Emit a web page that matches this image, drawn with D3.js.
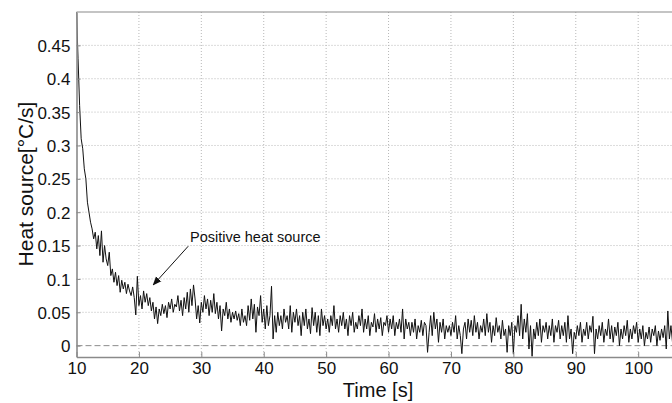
<!DOCTYPE html>
<html>
<head>
<meta charset="utf-8">
<script src="https://cdn.jsdelivr.net/npm/d3@7"></script>
<style>
    body { margin: 0; background: #fff; }
    text { font-family: Arial, "Liberation Sans", sans-serif; fill: #111; }
</style>
</head>
<body>
<div id="chart"></div>
<script>
// Sampled heat source [°C/s], one value every 0.25 s starting at t = 10 s
const startTime = 10;
const timeStep = 0.25;

const heat10to20 = [0.500, 0.430, 0.360, 0.310, 0.295, 0.265, 0.250, 0.215, 0.200, 0.185,
    0.175, 0.160, 0.170, 0.145, 0.165, 0.135, 0.172, 0.125, 0.150, 0.130,
    0.120, 0.140, 0.105, 0.115, 0.095, 0.110, 0.090, 0.105, 0.080, 0.098,
    0.085, 0.095, 0.078, 0.092, 0.082, 0.075, 0.088, 0.072, 0.046, 0.104];
const heat20to30 = [0.060, 0.075, 0.055, 0.082, 0.065, 0.078, 0.060, 0.072, 0.052, 0.065,
    0.040, 0.058, 0.033, 0.055, 0.045, 0.062, 0.048, 0.060, 0.042, 0.065,
    0.055, 0.070, 0.050, 0.062, 0.058, 0.075, 0.052, 0.068, 0.045, 0.072,
    0.055, 0.080, 0.050, 0.085, 0.060, 0.091, 0.070, 0.040, 0.060, 0.034];
const heat30to40 = [0.065, 0.050, 0.075, 0.055, 0.070, 0.045, 0.068, 0.050, 0.078, 0.048,
    0.065, 0.040, 0.060, 0.022, 0.055, 0.045, 0.065, 0.040, 0.055, 0.035,
    0.050, 0.040, 0.052, 0.038, 0.048, 0.030, 0.055, 0.035, 0.045, 0.030,
    0.060, 0.038, 0.070, 0.040, 0.062, 0.020, 0.058, 0.045, 0.075, 0.035];
const heat40to50 = [0.055, 0.025, 0.060, 0.030, 0.045, 0.089, 0.010, 0.045, 0.020, 0.050,
    0.030, 0.045, 0.025, 0.055, 0.035, 0.045, 0.025, 0.060, 0.020, 0.050,
    0.035, 0.055, 0.030, 0.045, 0.015, 0.050, 0.030, 0.055, 0.025, 0.040,
    0.018, 0.057, 0.030, 0.050, 0.020, 0.045, 0.015, 0.055, 0.030, 0.045];
const heat50to60 = [0.025, 0.040, 0.020, 0.045, 0.030, 0.060, 0.025, 0.040, 0.020, 0.045,
    0.030, 0.050, 0.025, 0.040, 0.015, 0.045, 0.030, 0.050, 0.020, 0.035,
    0.025, 0.045, 0.030, 0.055, 0.020, 0.040, 0.025, 0.045, 0.015, 0.035,
    0.028, 0.048, 0.020, 0.040, 0.025, 0.042, 0.015, 0.035, 0.030, 0.045];
const heat60to70 = [0.020, 0.040, 0.025, 0.045, 0.015, 0.035, 0.025, 0.040, 0.020, 0.055,
    0.010, 0.040, 0.025, 0.035, 0.015, 0.035, 0.020, 0.040, 0.010, 0.030,
    0.020, 0.038, 0.015, 0.035, 0.030, -0.010, 0.020, 0.045, 0.015, 0.050,
    0.025, 0.040, 0.005, 0.035, 0.020, 0.040, 0.010, 0.030, 0.020, 0.030];
const heat70to80 = [0.015, 0.035, 0.020, 0.045, 0.010, 0.030, 0.015, -0.012, 0.025, 0.035,
    0.010, 0.040, 0.020, 0.038, 0.015, 0.045, 0.020, 0.035, 0.010, 0.030,
    0.020, 0.040, 0.015, 0.048, 0.020, 0.035, 0.005, 0.030, 0.015, 0.042,
    0.020, 0.030, 0.010, 0.038, 0.015, 0.025, -0.010, 0.030, 0.015, 0.035];
const heat80to90 = [-0.012, 0.030, 0.020, 0.045, 0.015, 0.062, 0.010, 0.040, 0.020, 0.048,
    -0.005, 0.030, -0.016, 0.025, 0.010, 0.035, 0.015, 0.040, 0.005, 0.030,
    0.020, 0.035, 0.010, 0.030, 0.015, 0.040, 0.005, 0.030, 0.020, 0.038,
    0.010, 0.030, 0.015, 0.035, 0.005, 0.045, 0.010, 0.025, -0.012, 0.020];
const heat90to100 = [0.010, 0.030, 0.015, 0.035, 0.005, 0.025, 0.015, 0.035, 0.010, 0.030,
    0.020, 0.044, -0.012, 0.025, 0.010, 0.030, 0.015, 0.035, 0.005, 0.025,
    0.015, 0.040, 0.010, 0.030, 0.005, 0.028, 0.015, 0.035, 0.000, 0.025,
    0.010, 0.030, 0.015, 0.038, 0.005, 0.025, 0.010, 0.030, 0.018, 0.035];
const heat100to105 = [0.005, 0.025, 0.010, 0.030, 0.000, 0.020, 0.010, 0.028, 0.005, 0.025,
    0.015, 0.030, 0.000, 0.022, 0.008, 0.025, 0.012, 0.030, -0.005, 0.052,
    0.010, 0.030, 0.005];

const xTicks = [10, 20, 30, 40, 50, 60, 70, 80, 90, 100];
const yTicks = [0, 0.05, 0.1, 0.15, 0.2, 0.25, 0.3, 0.35, 0.4, 0.45];
const xDomain = [10, 105.5];
const yDomain = [-0.017, 0.5];

const annotationText = "Positive heat source";
const annotationFrom = [27.9, 0.149];   // data coords of arrow tail
const annotationTo = [22.3, 0.091];     // data coords of arrow head

class HeatVis {

    constructor(parentElement) {
        this.parentElement = parentElement;
        this.values = [].concat(heat10to20, heat20to30, heat30to40, heat40to50, heat50to60,
            heat60to70, heat70to80, heat80to90, heat90to100, heat100to105);
        this.initVis();
    }

    initVis() {
        let vis = this;

        vis.width = 672;
        vis.height = 403;
        vis.margin = {top: 12, left: 76.5, bottom: 46};

        vis.svg = d3.select("#" + vis.parentElement).append("svg")
            .attr("width", vis.width)
            .attr("height", vis.height);

        vis.x = d3.scaleLinear().domain(xDomain).range([vis.margin.left, vis.width + 0.5]);
        vis.y = d3.scaleLinear().domain(yDomain).range([vis.height - vis.margin.bottom, vis.margin.top]);

        let top = vis.y.range()[1], bottom = vis.y.range()[0];
        let left = vis.x.range()[0], right = vis.x.range()[1];

        // Grid
        vis.svg.append("g").selectAll("line")
            .data(xTicks.filter(d => d > 10))
            .enter().append("line")
            .attr("x1", d => vis.x(d)).attr("x2", d => vis.x(d))
            .attr("y1", top).attr("y2", bottom)
            .attr("stroke", "#b8b8b8")
            .attr("stroke-width", 1)
            .attr("stroke-dasharray", "1,2");

        vis.svg.append("g").selectAll("line")
            .data(yTicks.filter(d => d > 0))
            .enter().append("line")
            .attr("x1", left).attr("x2", right)
            .attr("y1", d => vis.y(d)).attr("y2", d => vis.y(d))
            .attr("stroke", "#b8b8b8")
            .attr("stroke-width", 1)
            .attr("stroke-dasharray", "1,2");

        // zero line
        vis.svg.append("line")
            .attr("x1", left).attr("x2", right)
            .attr("y1", vis.y(0)).attr("y2", vis.y(0))
            .attr("stroke", "#8c8c8c")
            .attr("stroke-width", 1)
            .attr("stroke-dasharray", "6,3");

        // Data line
        vis.svg.append("clipPath").attr("id", "plot-clip")
            .append("rect")
            .attr("x", left).attr("y", top)
            .attr("width", right - left).attr("height", bottom - top);

        vis.line = d3.line()
            .x((d, i) => vis.x(startTime + i * timeStep))
            .y(d => vis.y(d));

        vis.svg.append("path")
            .datum(vis.values)
            .attr("clip-path", "url(#plot-clip)")
            .attr("fill", "none")
            .attr("stroke", "#111")
            .attr("stroke-width", 1)
            .attr("stroke-linejoin", "round")
            .attr("d", vis.line);

        // Axes
        vis.xAxis = d3.axisBottom(vis.x).tickValues(xTicks).tickSizeInner(-5).tickSizeOuter(0).tickPadding(5);
        vis.xAxisGroup = vis.svg.append("g")
            .attr("transform", `translate(0, ${bottom})`)
            .call(vis.xAxis);

        vis.yAxis = d3.axisLeft(vis.y).tickValues(yTicks).tickSizeInner(-4).tickSizeOuter(0).tickPadding(6)
            .tickFormat(d => d3.format("")(+d.toFixed(2)));
        vis.yAxisGroup = vis.svg.append("g")
            .attr("transform", `translate(${left}, 0)`)
            .call(vis.yAxis);

        [vis.xAxisGroup, vis.yAxisGroup].forEach(g => {
            g.select(".domain").attr("stroke", "#8a8a8a").attr("stroke-width", 1.6);
            g.selectAll(".tick line").attr("stroke", "#8a8a8a");
            g.selectAll(".tick text")
                .attr("font-size", "17px")
                .attr("fill", "#111");
        });
        vis.xAxisGroup.selectAll(".tick text").attr("dy", "0.72em");
        vis.yAxisGroup.selectAll(".tick text").attr("dy", "0.36em");

        // top border
        vis.svg.append("line")
            .attr("x1", left).attr("x2", right)
            .attr("y1", top).attr("y2", top)
            .attr("stroke", "#8a8a8a")
            .attr("stroke-width", 1.2);

        // Labels
        vis.svg.append("text")
            .attr("x", 378)
            .attr("y", 397)
            .attr("text-anchor", "middle")
            .attr("font-size", "20px")
            .text("Time [s]");

        vis.svg.append("text")
            .attr("transform", "translate(33, 184) rotate(-90)")
            .attr("text-anchor", "middle")
            .attr("font-size", "21px")
            .text("Heat source[°C/s]");

        // Annotation
        vis.svg.append("defs").append("marker")
            .attr("id", "arrow")
            .attr("viewBox", "0 0 10 10")
            .attr("refX", 9).attr("refY", 5)
            .attr("markerWidth", 9).attr("markerHeight", 9)
            .attr("markerUnits", "userSpaceOnUse")
            .attr("orient", "auto")
            .append("path")
            .attr("d", "M0,1 L10,5 L0,9 Z")
            .attr("fill", "#111");

        vis.svg.append("line")
            .attr("x1", vis.x(annotationFrom[0])).attr("y1", vis.y(annotationFrom[1]))
            .attr("x2", vis.x(annotationTo[0])).attr("y2", vis.y(annotationTo[1]))
            .attr("stroke", "#111")
            .attr("stroke-width", 1)
            .attr("marker-end", "url(#arrow)");

        vis.svg.append("text")
            .attr("x", 190)
            .attr("y", 242)
            .attr("font-size", "14.5px")
            .text(annotationText);
    }
}

new HeatVis("chart");
</script>
</body>
</html>
